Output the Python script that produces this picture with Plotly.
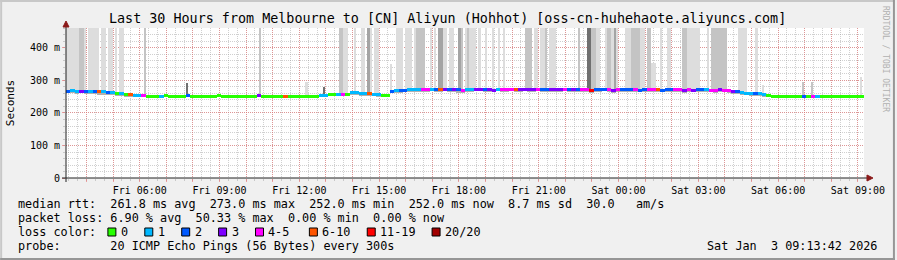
import plotly.graph_objects as go
import pandas as pd

# ---------------- data ----------------
TITLE = "Last 30 Hours from Melbourne to [CN] Aliyun (Hohhot) [oss-cn-huhehaote.aliyuncs.com]"
START = "2026-01-02 03:13:42"
END = "2026-01-03 09:13:42"
SLOT_MINUTES = 10        # median / loss / min-ping slots
SMOKE_MINUTES = 5        # smoke column slots

median_ms = [
    267, 268, 266, 267, 265, 266, 267, 265, 266, 264,
    262, 260, 259, 258, 257, 255, 254, 253, 252, 252,
    252, 252, 253, 252, 252, 252, 252, 253, 252, 252,
    252, 252, 252, 252, 253, 252, 252, 252, 252, 252,
    252, 252, 252, 253, 252, 252, 252, 252, 252, 252,
    252, 252, 252, 252, 252, 252, 252, 253, 255, 256,
    257, 256, 256, 258, 262, 263, 261, 260, 259, 258,
    257, 255, 254, 266, 268, 268, 270, 271, 271, 272,
    272, 271, 272, 271, 272, 273, 272, 271, 272, 270,
    271, 271, 272, 273, 272, 271, 270, 272, 272, 271,
    272, 271, 272, 272, 271, 272, 272, 271, 272, 271,
    272, 271, 272, 271, 272, 271, 272, 271, 270, 271,
    271, 272, 271, 270, 271, 272, 271, 272, 271, 270,
    271, 271, 272, 271, 270, 271, 272, 271, 271, 270,
    271, 270, 271, 272, 271, 270, 270, 271, 270, 269,
    267, 265, 262, 261, 260, 260, 259, 258, 253, 252,
    252, 252, 252, 252, 252, 252, 252, 252, 252, 252,
    252, 252, 252, 252, 252, 252, 252, 252, 252, 252,
]

# loss category index per slot (0:"0",1:"1",2:"2",3:"3",4:"4-5",5:"6-10",6:"11-19",7:"20/20")
loss_code = [
    2, 1, 1, 3, 2, 1, 2, 5, 1, 2,
    1, 0, 1, 0, 5, 1, 1, 4, 0, 0,
    0, 1, 0, 0, 0, 0, 0, 2, 0, 0,
    0, 0, 0, 0, 0, 0, 0, 0, 0, 0,
    0, 0, 0, 3, 0, 0, 0, 0, 0, 5,
    0, 0, 0, 0, 0, 0, 0, 1, 1, 0,
    0, 1, 4, 0, 1, 1, 1, 1, 5, 1,
    1, 0, 0, 2, 1, 2, 2, 1, 1, 1,
    4, 4, 1, 2, 5, 3, 2, 3, 2, 4,
    1, 1, 3, 3, 2, 3, 3, 1, 4, 4,
    4, 5, 3, 3, 3, 3, 4, 2, 2, 3,
    3, 3, 4, 2, 3, 2, 4, 4, 6, 2,
    2, 2, 4, 3, 4, 2, 2, 2, 4, 2,
    2, 4, 4, 5, 2, 2, 2, 4, 4, 3,
    4, 3, 2, 2, 1, 4, 4, 3, 4, 4,
    3, 2, 1, 1, 1, 2, 1, 1, 0, 0,
    0, 0, 0, 0, 0, 0, 2, 0, 4, 1,
    0, 0, 0, 0, 0, 0, 0, 0, 0, 0,
]

ping_min_ms = [
    262, 263, 260, 262, 258, 259, 261, 256, 255, 254,
    254, 253, 252, 252, 251, 251, 251, 251, 251, 251,
    251, 251, 251, 251, 251, 251, 251, 251, 251, 251,
    251, 251, 251, 251, 251, 251, 251, 251, 251, 251,
    251, 251, 251, 251, 251, 251, 251, 251, 251, 251,
    251, 251, 251, 251, 251, 251, 251, 252, 253, 253,
    254, 253, 253, 254, 256, 257, 255, 255, 254, 253,
    252, 252, 252, 262, 263, 264, 266, 266, 267, 267,
    267, 266, 268, 267, 265, 268, 267, 266, 262, 263,
    266, 267, 268, 268, 266, 267, 265, 268, 267, 266,
    268, 266, 267, 268, 266, 267, 268, 266, 267, 265,
    267, 266, 268, 266, 267, 265, 267, 266, 262, 264,
    266, 268, 265, 263, 264, 267, 266, 267, 266, 265,
    266, 266, 267, 266, 265, 266, 267, 266, 266, 263,
    266, 265, 266, 267, 266, 265, 264, 266, 265, 263,
    261, 259, 255, 254, 253, 254, 253, 252, 251, 251,
    251, 251, 251, 251, 251, 251, 251, 251, 251, 251,
    251, 251, 251, 251, 251, 251, 251, 251, 251, 251,
]

# highest ping per 5-minute slot (0 = no smoke column, 999 = beyond the top of the chart)
smoke_top_ms = [
    999, 999, 999, 999, 999, 999, 999, 999, 999, 0, 999, 999, 999, 999, 999, 0, 999, 999, 0, 999,
    999, 0, 999, 0, 999, 999, 0, 0, 0, 0, 0, 0, 0, 0, 0, 999, 0, 0, 0, 0,
    0, 0, 0, 0, 0, 0, 0, 0, 0, 0, 0, 0, 0, 0, 292, 0, 0, 0, 0, 0,
    0, 0, 0, 0, 0, 0, 0, 0, 0, 0, 0, 0, 0, 0, 0, 0, 0, 0, 0, 0,
    0, 0, 0, 0, 0, 0, 0, 999, 0, 0, 0, 0, 0, 0, 0, 0, 0, 0, 0, 0,
    0, 0, 0, 0, 0, 0, 0, 0, 295, 0, 0, 0, 0, 0, 0, 0, 280, 0, 0, 0,
    0, 0, 0, 999, 999, 999, 999, 0, 0, 0, 999, 0, 0, 999, 999, 0, 999, 999, 0, 999,
    999, 0, 0, 0, 0, 0, 350, 0, 0, 999, 999, 999, 0, 999, 999, 999, 0, 999, 999, 999,
    999, 999, 0, 0, 999, 0, 999, 0, 999, 999, 999, 999, 0, 999, 999, 0, 0, 999, 999, 0,
    999, 999, 999, 999, 999, 0, 999, 0, 0, 999, 0, 0, 999, 0, 0, 999, 0, 999, 0, 0,
    0, 0, 0, 0, 0, 0, 0, 999, 999, 999, 0, 999, 999, 0, 999, 999, 999, 0, 999, 999,
    999, 0, 0, 0, 0, 0, 0, 0, 0, 0, 0, 999, 0, 0, 0, 999, 999, 999, 999, 999,
    999, 0, 0, 999, 999, 999, 999, 999, 999, 0, 0, 0, 999, 999, 999, 999, 999, 999, 999, 999,
    999, 0, 999, 999, 355, 355, 0, 0, 999, 0, 0, 999, 999, 0, 0, 0, 0, 0, 999, 999,
    999, 999, 999, 999, 999, 999, 0, 0, 0, 999, 0, 999, 999, 999, 999, 999, 999, 999, 0, 0,
    0, 0, 0, 999, 999, 999, 999, 0, 0, 0, 0, 999, 0, 0, 285, 0, 0, 0, 0, 0,
    0, 0, 0, 0, 0, 0, 0, 0, 0, 0, 0, 0, 295, 0, 0, 0, 295, 0, 0, 0,
    0, 0, 0, 0, 0, 0, 0, 0, 0, 0, 0, 0, 0, 0, 0, 0, 0, 0, 310, 0,
]

# smoke darkness per 5-minute slot (0 none, 1 light, 2 medium, 3 dark, 4 darkest)
smoke_shade = [
    1, 1, 1, 1, 1, 1, 2, 2, 1, 0, 1, 1, 1, 1, 1, 0, 1, 1, 0, 1,
    1, 0, 1, 0, 1, 1, 0, 0, 0, 0, 0, 0, 0, 0, 0, 2, 0, 0, 0, 0,
    0, 0, 0, 0, 0, 0, 0, 0, 0, 0, 0, 0, 0, 0, 4, 0, 0, 0, 0, 0,
    0, 0, 0, 0, 0, 0, 0, 0, 0, 0, 0, 0, 0, 0, 0, 0, 0, 0, 0, 0,
    0, 0, 0, 0, 0, 0, 0, 2, 0, 0, 0, 0, 0, 0, 0, 0, 0, 0, 0, 0,
    0, 0, 0, 0, 0, 0, 0, 0, 1, 0, 0, 0, 0, 0, 0, 0, 4, 0, 0, 0,
    0, 0, 0, 2, 2, 1, 1, 0, 0, 0, 1, 0, 0, 1, 1, 0, 3, 1, 0, 1,
    1, 0, 0, 0, 0, 0, 1, 0, 0, 1, 1, 1, 0, 1, 1, 1, 0, 1, 2, 2,
    2, 2, 0, 0, 1, 0, 1, 0, 3, 3, 1, 1, 0, 1, 1, 0, 0, 3, 2, 0,
    1, 2, 1, 1, 1, 0, 1, 0, 0, 1, 0, 0, 1, 0, 0, 1, 0, 1, 0, 0,
    0, 0, 0, 0, 0, 0, 0, 2, 2, 2, 0, 1, 1, 0, 1, 1, 2, 0, 1, 1,
    1, 0, 0, 0, 0, 0, 0, 0, 0, 0, 0, 2, 0, 0, 0, 4, 4, 2, 2, 1,
    1, 0, 0, 1, 2, 2, 1, 3, 1, 0, 0, 0, 1, 1, 1, 2, 2, 2, 2, 1,
    1, 0, 2, 2, 1, 1, 0, 0, 1, 0, 0, 1, 1, 0, 0, 0, 0, 0, 2, 2,
    1, 1, 1, 1, 1, 1, 0, 0, 0, 1, 0, 2, 2, 2, 2, 2, 2, 2, 0, 0,
    0, 0, 0, 1, 1, 1, 1, 0, 0, 0, 0, 1, 0, 0, 1, 0, 0, 0, 0, 0,
    0, 0, 0, 0, 0, 0, 0, 0, 0, 0, 0, 0, 2, 0, 0, 0, 2, 0, 0, 0,
    0, 0, 0, 0, 0, 0, 0, 0, 0, 0, 0, 0, 0, 0, 0, 0, 0, 0, 1, 0,
]

loss_labels = ["0", "1", "2", "3", "4-5", "6-10", "11-19", "20/20"]
loss_colors = ["#26ff00", "#00b8ff", "#0059ff", "#7e00ff", "#ff00ff", "#ff5500", "#ff0000", "#a10000"]
shade_colors = ["rgba(0,0,0,0)", "#dddddd", "#c4c4c4", "#a4a4a4", "#707070"]

y_tick_vals = [0, 100, 200, 300, 400]
y_tick_text = ["0", "100 m", "200 m", "300 m", "400 m"]
Y_MAX = 461.5

stat_lines = [
    "median rtt:  261.8 ms avg  273.0 ms max  252.0 ms min  252.0 ms now  8.7 ms sd  30.0   am/s",
    "packet loss: 6.90 % avg  50.33 % max  0.00 % min  0.00 % now",
]
probe_text = "probe:       20 ICMP Echo Pings (56 Bytes) every 300s"
stamp_text = "Sat Jan  3 09:13:42 2026"

# ---------------- geometry helpers (pixel -> paper) ----------------
W, H = 897, 260
L, R, T, B = 66, 31, 28, 82
PW, PH = W - L - R, H - T - B


def px(x):
    return (x - L) / PW


def py(y):
    return (H - B - y) / PH


# ---------------- build ----------------
start = pd.Timestamp(START)
slot = pd.Timedelta(minutes=SLOT_MINUTES)
times = [start + slot * (i + 0.5) for i in range(len(median_ms))]
width_ms = SLOT_MINUTES * 60 * 1000

sslot = pd.Timedelta(minutes=SMOKE_MINUTES)
ratio = SLOT_MINUTES // SMOKE_MINUTES
smoke_times = [start + sslot * (j + 0.5) for j in range(len(smoke_top_ms))]
smoke_base = [ping_min_ms[j // ratio] for j in range(len(smoke_top_ms))]
smoke_width = SMOKE_MINUTES * 60 * 1000

fig = go.Figure()

# tall smoke columns
fig.add_trace(go.Bar(
    x=smoke_times, base=smoke_base,
    y=[(t - b) if t > 0 else 0 for t, b in zip(smoke_top_ms, smoke_base)],
    width=smoke_width,
    marker=dict(color=[shade_colors[s] for s in smoke_shade], line=dict(width=0)),
    hoverinfo="skip", showlegend=False,
))

# near-median smoke (min ping up to median)
fig.add_trace(go.Bar(
    x=times, base=ping_min_ms,
    y=[m - p for m, p in zip(median_ms, ping_min_ms)],
    width=width_ms, marker=dict(color="#b0b0b0", line=dict(width=0)),
    hoverinfo="skip", showlegend=False,
))

# median line coloured by loss
LINE_MS = 9
fig.add_trace(go.Bar(
    x=times, base=[m - LINE_MS / 2 for m in median_ms],
    y=[LINE_MS] * len(median_ms),
    width=width_ms,
    marker=dict(color=[loss_colors[c] for c in loss_code], line=dict(width=0)),
    hoverinfo="skip", showlegend=False,
))

hours = pd.date_range("2026-01-02 04:00", "2026-01-03 09:00", freq="h")
x_tick_text = [h.strftime("%a %H:%M") if h.hour % 3 == 0 else "" for h in hours]

MGRID = "rgba(230,110,110,0.6)"
GRID = "rgba(150,150,150,0.45)"
MONO = "DejaVu Sans Mono"

fig.update_layout(
    width=W, height=H,
    margin=dict(l=L, r=R, t=T, b=B, pad=0),
    paper_bgcolor="#f0f0f0", plot_bgcolor="#ffffff",
    barmode="overlay", bargap=0,
    showlegend=False,
    font=dict(family=MONO, size=10, color="#000000"),
    xaxis=dict(
        type="date", range=[START, END],
        tickmode="array", tickvals=list(hours), ticktext=x_tick_text,
        showgrid=True, gridcolor=MGRID, griddash="1px,1px", gridwidth=1,
        ticks="outside", ticklen=3, tickcolor=MGRID, tickwidth=1,
        tickfont=dict(family=MONO, size=10),
        minor=dict(dtick=20 * 60 * 1000, tick0="2026-01-02 04:00", showgrid=True,
                   gridcolor=GRID, griddash="1px,1px", ticks="outside", ticklen=2,
                   tickcolor=GRID),
        showline=False, zeroline=False, fixedrange=True,
    ),
    yaxis=dict(
        range=[0, Y_MAX], tickmode="array", tickvals=y_tick_vals, ticktext=y_tick_text,
        showgrid=True, gridcolor=MGRID, griddash="1px,1px",
        ticks="outside", ticklen=3, tickcolor=MGRID,
        tickfont=dict(family=MONO, size=10),
        minor=dict(dtick=20, tick0=0, showgrid=True, gridcolor=GRID, griddash="1px,1px",
                   ticks="outside", ticklen=2, tickcolor=GRID),
        showline=False, zeroline=False, fixedrange=True,
    ),
)

shapes = []
# axes lines with overhang and arrows
shapes.append(dict(type="line", xref="paper", yref="paper", x0=px(62), x1=px(869), y0=0, y1=0,
                   line=dict(color="#202020", width=1)))
shapes.append(dict(type="line", xref="paper", yref="paper", x0=0, x1=0, y0=py(182), y1=py(27),
                   line=dict(color="#202020", width=1)))
shapes.append(dict(type="path", xref="paper", yref="paper",
                   path=f"M {px(869)} {py(175)} L {px(875)} {py(178)} L {px(869)} {py(181)} Z",
                   fillcolor="#8b1a1a", line=dict(color="#8b1a1a", width=1)))
shapes.append(dict(type="path", xref="paper", yref="paper",
                   path=f"M {px(63)} {py(27)} L {px(66)} {py(21)} L {px(69)} {py(27)} Z",
                   fillcolor="#8b1a1a", line=dict(color="#8b1a1a", width=1)))
# image frame (rrdtool shade)
shapes.append(dict(type="rect", xref="paper", yref="paper", x0=px(0), x1=px(W), y0=py(0), y1=py(2),
                   fillcolor="#c8c8c8", line=dict(width=0), layer="below"))
shapes.append(dict(type="rect", xref="paper", yref="paper", x0=px(0), x1=px(2), y0=py(0), y1=py(H),
                   fillcolor="#c8c8c8", line=dict(width=0), layer="below"))
shapes.append(dict(type="rect", xref="paper", yref="paper", x0=px(0), x1=px(W), y0=py(H - 2), y1=py(H),
                   fillcolor="#969696", line=dict(width=0), layer="below"))
shapes.append(dict(type="rect", xref="paper", yref="paper", x0=px(W - 2), x1=px(W), y0=py(0), y1=py(H),
                   fillcolor="#969696", line=dict(width=0), layer="below"))

annotations = []
annotations.append(dict(text=TITLE, xref="paper", yref="paper", x=px(448), y=py(19),
                        xanchor="center", yanchor="middle", showarrow=False,
                        font=dict(family=MONO, size=13.4, color="#000")))
annotations.append(dict(text="Seconds", xref="paper", yref="paper", x=px(10), y=py(103),
                        xanchor="center", yanchor="middle", showarrow=False, textangle=-90,
                        font=dict(family=MONO, size=11, color="#000")))
annotations.append(dict(text="RRDTOOL / TOBI OETIKER", xref="paper", yref="paper", x=px(888), y=py(59),
                        xanchor="center", yanchor="middle", showarrow=False, textangle=90,
                        font=dict(family=MONO, size=8, color="#b0b0b0")))

LEG = 11.8
for k, line in enumerate(stat_lines):
    annotations.append(dict(text=line.replace(" ", "&nbsp;"), xref="paper", yref="paper",
                            x=px(16), y=py(204 + 14 * k), xanchor="left", yanchor="middle",
                            showarrow=False, font=dict(family=MONO, size=LEG, color="#000")))
annotations.append(dict(text="loss&nbsp;color:", xref="paper", yref="paper", x=px(16), y=py(232),
                        xanchor="left", yanchor="middle", showarrow=False,
                        font=dict(family=MONO, size=LEG, color="#000")))
box_x = [108, 145, 182, 219, 256, 310, 368, 433]
for bx, lab, col in zip(box_x, loss_labels, loss_colors):
    shapes.append(dict(type="rect", xref="paper", yref="paper", x0=px(bx), x1=px(bx + 8),
                       y0=py(236), y1=py(228), fillcolor=col, line=dict(color="#000", width=1)))
    annotations.append(dict(text=lab, xref="paper", yref="paper", x=px(bx + 11), y=py(232),
                            xanchor="left", yanchor="middle", showarrow=False,
                            font=dict(family=MONO, size=LEG, color="#000")))
annotations.append(dict(text=probe_text.replace(" ", "&nbsp;"), xref="paper", yref="paper",
                        x=px(16), y=py(246), xanchor="left", yanchor="middle", showarrow=False,
                        font=dict(family=MONO, size=LEG, color="#000")))
annotations.append(dict(text=stamp_text.replace(" ", "&nbsp;"), xref="paper", yref="paper",
                        x=px(881), y=py(246), xanchor="right", yanchor="middle", showarrow=False,
                        font=dict(family=MONO, size=LEG, color="#000")))

fig.update_layout(shapes=shapes, annotations=annotations)
fig.write_html("out.html")
